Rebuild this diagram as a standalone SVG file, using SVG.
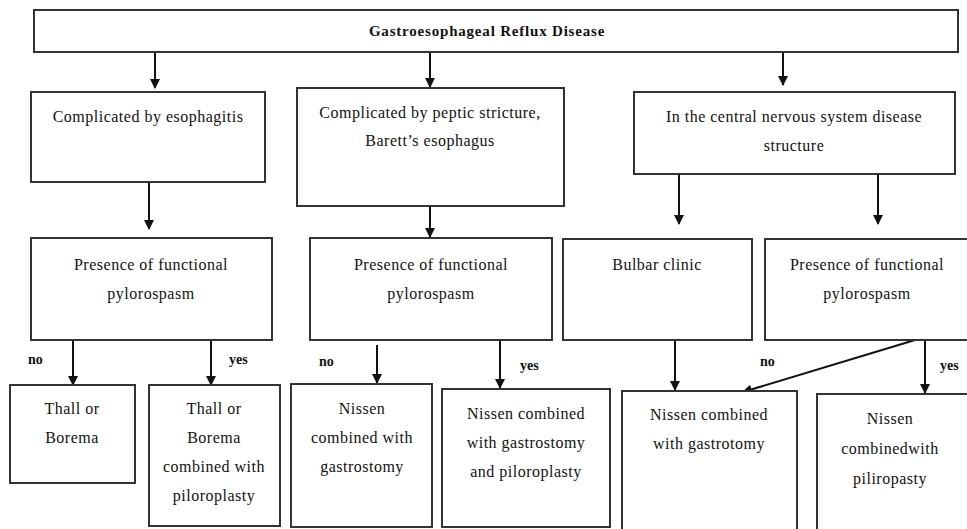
<svg xmlns="http://www.w3.org/2000/svg" width="967" height="529" viewBox="0 0 967 529">
<style>
.box{fill:#fff;stroke:#333;stroke-width:2}
.t{font-family:"Liberation Serif",serif;font-size:16px;letter-spacing:0.5px;fill:#111;text-anchor:middle}
.title{font-family:"Liberation Serif",serif;font-size:15px;letter-spacing:0.8px;font-weight:bold;fill:#111;text-anchor:middle}
.lbl{font-family:"Liberation Serif",serif;font-size:14px;font-weight:bold;fill:#111}
.c{stroke:#111;stroke-width:2;fill:none;marker-end:url(#ah)}
</style>
<defs>
<marker id="ah" markerWidth="10" markerHeight="10" refX="9" refY="5" orient="auto" markerUnits="userSpaceOnUse">
<path d="M0,0 L10,5 L0,10 z" fill="#111"/>
</marker>
</defs>
<rect width="967" height="529" fill="#fff"/>
<g id="connectors">
<line class="c" x1="155" y1="52" x2="155" y2="88"/>
<line class="c" x1="430" y1="52" x2="430" y2="87"/>
<line class="c" x1="783" y1="52" x2="783" y2="85"/>
<line class="c" x1="149" y1="182" x2="149" y2="229"/>
<line class="c" x1="430" y1="206" x2="430" y2="237"/>
<line class="c" x1="679" y1="174" x2="679" y2="224"/>
<line class="c" x1="878" y1="174" x2="878" y2="224"/>
<line class="c" x1="73" y1="340" x2="73" y2="385"/>
<line class="c" x1="211" y1="340" x2="211" y2="385"/>
<line class="c" x1="377" y1="345" x2="377" y2="383"/>
<line class="c" x1="500" y1="340" x2="500" y2="388"/>
<line class="c" x1="675" y1="340" x2="675" y2="390"/>
<line class="c" x1="925" y1="337" x2="743" y2="392"/>
<line class="c" x1="925" y1="337" x2="925" y2="393"/>
<text class="lbl" x="28" y="364">no</text>
<text class="lbl" x="229" y="364">yes</text>
<text class="lbl" x="319" y="366">no</text>
<text class="lbl" x="520" y="370">yes</text>
<text class="lbl" x="760" y="366">no</text>
<text class="lbl" x="940" y="370">yes</text>
</g>
<g id="n0"><rect class="box" x="34" y="10" width="924" height="42"/><text class="title" x="487" y="36">Gastroesophageal Reflux Disease</text></g>
<g id="n1"><rect class="box" x="31" y="92" width="234" height="90"/><text class="t" x="148" y="122">Complicated by esophagitis</text></g>
<g id="n2"><rect class="box" x="297" y="88" width="267" height="118"/><text class="t" x="430" y="118">Complicated by peptic stricture,</text><text class="t" x="430" y="146">Barett’s esophagus</text></g>
<g id="n3"><rect class="box" x="634" y="92" width="321" height="82"/><text class="t" x="794" y="122">In the central nervous system disease</text><text class="t" x="794" y="151">structure</text></g>
<g id="n4"><rect class="box" x="31" y="238" width="241" height="102"/><text class="t" x="151" y="270">Presence of functional</text><text class="t" x="151" y="299">pylorospasm</text></g>
<g id="n5"><rect class="box" x="310" y="238" width="242" height="102"/><text class="t" x="431" y="270">Presence of functional</text><text class="t" x="431" y="299">pylorospasm</text></g>
<g id="n6"><rect class="box" x="563" y="239" width="189" height="101"/><text class="t" x="657" y="270">Bulbar clinic</text></g>
<g id="n7"><rect class="box" x="765" y="239" width="210" height="101"/><text class="t" x="867" y="270">Presence of functional</text><text class="t" x="867" y="299">pylorospasm</text></g>
<g id="n8"><rect class="box" x="10" y="385" width="125" height="98"/><text class="t" x="72" y="414">Thall or</text><text class="t" x="72" y="443">Borema</text></g>
<g id="n9"><rect class="box" x="149" y="385" width="131" height="141"/><text class="t" x="214" y="414">Thall or</text><text class="t" x="214" y="443">Borema</text><text class="t" x="214" y="472">combined with</text><text class="t" x="214" y="501">piloroplasty</text></g>
<g id="n10"><rect class="box" x="291" y="384" width="141" height="143"/><text class="t" x="362" y="414">Nissen</text><text class="t" x="362" y="443">combined with</text><text class="t" x="362" y="472">gastrostomy</text></g>
<g id="n11"><rect class="box" x="442" y="389" width="168" height="138"/><text class="t" x="526" y="419">Nissen combined</text><text class="t" x="526" y="448">with gastrostomy</text><text class="t" x="526" y="477">and piloroplasty</text></g>
<g id="n12"><rect class="box" x="622" y="391" width="175" height="140"/><text class="t" x="709" y="420">Nissen combined</text><text class="t" x="709" y="449">with gastrotomy</text></g>
<g id="n13"><rect class="box" x="817" y="394" width="160" height="140"/><text class="t" x="890" y="424">Nissen</text><text class="t" x="890" y="454">combinedwith</text><text class="t" x="890" y="484">piliropasty</text></g>
</svg>
